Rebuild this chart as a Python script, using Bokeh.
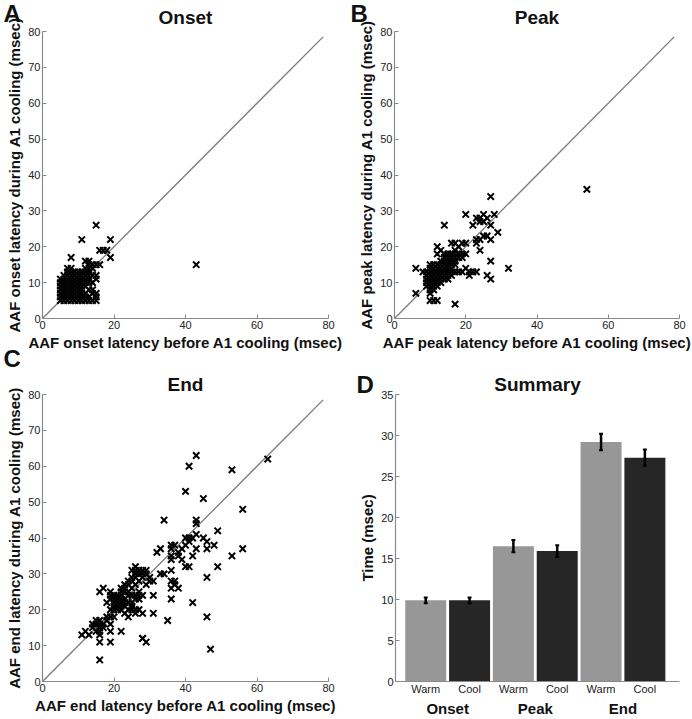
from bokeh.plotting import figure
from bokeh.layouts import column, row
from bokeh.models import Range1d, FixedTicker, LinearAxis, Title
from bokeh.embed import file_html
from bokeh.resources import INLINE

FONT = "Liberation Sans"

# ---------------- data ----------------
onset_before = [
    5, 5, 5, 5, 5, 5, 5,
    6, 6, 6, 6, 6, 6, 6, 6,
    7, 7, 7, 7, 7, 7, 7, 7, 7, 7,
    8, 8, 8, 8, 8, 8, 8, 8, 8, 8, 8,
    9, 9, 9, 9, 9, 9, 9, 9, 9,
    10, 10, 10, 10, 10, 10, 10, 10, 10,
    11, 11, 11, 11, 11, 11, 11, 11, 11, 11,
    12, 12, 12, 12, 12, 12, 12, 12, 12, 12,
    13, 13, 13, 13, 13, 13, 13, 13, 13, 13,
    14, 14, 14, 14, 14, 14, 14,
    15, 15, 15, 15, 15, 15, 15,
    16, 16, 17, 18, 19, 19, 43]
onset_during = [
    5, 6, 7, 8, 9, 10, 11,
    5, 6, 7, 8, 9, 10, 11, 12,
    5, 6, 7, 8, 9, 10, 11, 12, 13, 14,
    5, 6, 7, 8, 9, 10, 11, 12, 13, 14, 17,
    5, 6, 7, 8, 9, 10, 11, 12, 13,
    5, 6, 7, 8, 9, 10, 11, 12, 13,
    5, 6, 7, 8, 9, 10, 11, 12, 13, 22,
    5, 6, 7, 9, 10, 11, 12, 13, 14, 16,
    5, 6, 8, 10, 11, 12, 13, 14, 15, 16,
    5, 7, 8, 10, 12, 14, 15,
    5, 6, 7, 11, 12, 15, 26,
    15, 19, 19, 19, 17, 22, 15]

peak_before = [
    9, 9, 9, 9, 9,
    10, 10, 10, 10, 10, 10, 10, 10, 10,
    11, 11, 11, 11, 11, 11, 11, 11,
    12, 12, 12, 12, 12, 12, 12,
    13, 13, 13, 13, 13, 13, 13,
    14, 14, 14, 14, 14, 14, 14,
    15, 15, 15, 15, 15, 15, 15, 15,
    16, 16, 16, 16, 16, 16, 16,
    17, 17, 17, 17, 17, 17,
    18, 18, 18,
    6, 6, 8, 10, 11, 12, 17, 14, 12, 12, 13, 14, 17, 18, 19, 20,
    20, 23, 24, 25, 28, 27, 22, 24, 25, 23, 23, 24, 24, 25, 26, 27,
    29, 27, 26, 20, 21, 21, 22, 23, 27, 26, 27, 32, 54, 19, 19, 16,
    20, 19]
peak_during = [
    9, 10, 11, 12, 13,
    7, 8, 9, 10, 11, 12, 13, 14, 15,
    8, 9, 10, 11, 12, 13, 14, 15,
    9, 10, 11, 12, 13, 14, 15,
    10, 11, 12, 13, 14, 15, 16,
    11, 12, 13, 14, 15, 16, 17,
    11, 12, 13, 14, 15, 16, 17, 18,
    12, 13, 14, 15, 16, 17, 18,
    13, 15, 16, 17, 18, 19,
    13, 17, 18,
    7, 14, 13, 5, 5, 5, 4, 26, 20, 18, 19, 18, 21, 20, 21, 21,
    29, 28, 28, 29, 29, 34, 26, 27, 27, 22, 21, 22, 19, 23, 23, 22,
    24, 26, 28, 14, 13, 12, 13, 13, 16, 12, 11, 14, 36, 18, 13, 21,
    18, 17]

end_before = [
    14, 14, 15, 15, 15, 16, 16, 16, 16, 16, 17, 17, 18, 18, 18,
    19, 19, 19, 19, 19, 19,
    20, 20, 20, 20, 20, 20,
    21, 21, 21, 21, 21,
    22, 22, 22, 22, 22, 22, 22,
    23, 23, 23, 23, 23, 23, 23,
    24, 24, 24, 24, 24, 24, 24,
    25, 25, 25, 25, 25, 25, 25, 25,
    26, 26, 26, 26, 26, 26, 26, 26, 26,
    27, 27, 27, 27, 27, 27, 27,
    28, 28, 28, 28, 28, 28,
    29, 29, 29, 30,
    11, 12, 13, 16, 16, 19, 28, 29, 22, 19, 16, 17, 35, 31, 31, 36,
    42, 46, 47, 34, 32, 33, 40, 41, 43, 45, 53, 63, 56, 56, 53, 49,
    49, 46, 48, 46, 46, 45, 43, 43, 43, 43, 42, 41, 40, 41, 41, 40,
    40, 39, 38, 39, 36, 36, 36, 36, 36, 37, 38, 33, 34, 31, 30, 37,
    36, 36, 42, 38, 37]
end_during = [
    15, 16, 14, 16, 17, 13, 14, 15, 16, 17, 15, 16, 17, 18, 22,
    16, 18, 20, 23, 24, 25,
    18, 20, 21, 22, 23, 24,
    20, 21, 22, 23, 24,
    20, 21, 22, 23, 24, 25, 26,
    19, 21, 22, 23, 25, 26, 27,
    18, 20, 22, 24, 25, 27, 28,
    20, 21, 22, 24, 26, 28, 29, 31,
    19, 20, 23, 24, 27, 29, 30, 31, 32,
    20, 23, 24, 25, 28, 30, 31,
    19, 24, 29, 30, 31, 12,
    27, 30, 31, 28,
    13, 14, 13, 6, 11, 11, 12, 11, 14, 14, 25, 26, 17, 19, 24, 23,
    22, 18, 9, 45, 36, 37, 53, 60, 63, 51, 59, 62, 48, 37, 35, 42,
    32, 29, 38, 37, 39, 40, 45, 44, 41, 37, 35, 32, 32, 39, 40, 40,
    38, 37, 36, 34, 38, 34, 31, 28, 26, 27, 26, 30, 30, 28, 29, 38,
    37, 35, 40, 35, 28]

unity_line = [0, 78.5]
scatter_ticks = [0, 20, 40, 60, 80]
scatter_yticks = [0, 10, 20, 30, 40, 50, 60, 70, 80]

summary_groups = ["Onset", "Peak", "End"]
summary_conditions = ["Warm", "Cool"]
summary_means = [9.9, 9.9, 16.5, 15.9, 29.2, 27.3]
summary_sem = [0.35, 0.35, 0.75, 0.72, 1.0, 1.0]
summary_yticks = [0, 5, 10, 15, 20, 25, 30, 35]

WARM = "#979797"
COOL = "#262626"
AXIS = "#8a8a8a"
TXT = "#222222"
INK = "#111111"

W = 346
H_TOP = 370
H_BOT = 349


def style_axes(p):
    for ax in (p.xaxis[0], p.yaxis[0]):
        ax.axis_line_color = AXIS
        ax.axis_line_width = 1.2
        ax.major_tick_line_color = AXIS
        ax.major_tick_in = 4
        ax.major_tick_out = 0
        ax.minor_tick_line_color = None
        ax.major_label_text_font = FONT
        ax.major_label_text_font_size = "11px"
        ax.major_label_text_color = TXT
        ax.major_label_standoff = 2
        ax.axis_label_text_font = FONT
        ax.axis_label_text_font_size = "15px"
        ax.axis_label_text_font_style = "bold"
        ax.axis_label_text_color = INK
        ax.axis_label_standoff = 2
    p.xgrid.grid_line_color = None
    p.ygrid.grid_line_color = None
    p.outline_line_color = None


def add_titles(p, title, letter, title_standoff, letter_offset, letter_standoff):
    # panel title (nearest the frame)
    p.add_layout(Title(text=title, align="center", standoff=title_standoff,
                       text_font=FONT, text_font_size="19px", text_font_style="bold",
                       text_color=INK), "above")
    # panel letter (outermost, pulled down beside the title)
    if letter:
        p.add_layout(Title(text=letter, align="left", offset=letter_offset,
                           standoff=letter_standoff, text_font=FONT, text_font_size="24px",
                           text_font_style="bold", text_color=INK), "above")


def scatter_panel(xs, ys, xlab, ylab, height, left, right, top, bottom):
    p = figure(width=W, height=height, x_range=Range1d(0, 80), y_range=Range1d(0, 80),
               output_backend="svg", toolbar_location=None,
               min_border_left=left, min_border_right=right,
               min_border_top=top, min_border_bottom=bottom)
    style_axes(p)
    p.xaxis.ticker = FixedTicker(ticks=scatter_ticks)
    p.yaxis.ticker = FixedTicker(ticks=scatter_yticks)
    p.xaxis.axis_label = xlab
    p.yaxis.axis_label = ylab
    p.line(unity_line, unity_line, line_color="#7a7a7a", line_width=1.3)
    p.scatter(xs, ys, marker="x", size=9, line_color="black", line_width=2)
    return p


pA = scatter_panel(onset_before, onset_during,
                   "AAF onset latency before A1 cooling (msec)",
                   "AAF onset latency during A1 cooling (msec)",
                   H_TOP, 42, 18, 31, 52)
add_titles(pA, "Onset", "A", 7, -39, -51)
# letter of the lower-left panel sits in the gap under panel A
pA.add_layout(Title(text="C", align="left", offset=-39, standoff=-22,
                    text_font=FONT, text_font_size="24px", text_font_style="bold",
                    text_color=INK), "below")

pB = scatter_panel(peak_before, peak_during,
                   "AAF peak latency before A1 cooling (msec)",
                   "AAF peak latency during A1 cooling (msec)",
                   H_TOP, 48, 13, 31, 52)
add_titles(pB, "Peak", "B", 7, -44, -51)

pC = scatter_panel(end_before, end_during,
                   "AAF end latency before A1 cooling (msec)",
                   "AAF end latency during A1 cooling (msec)",
                   H_BOT, 42, 18, 24, 36)
add_titles(pC, "End", None, 0, 0, 0)

# ---------------- summary panel ----------------
bar_x = [i + 1 for i in range(len(summary_means))]
bar_colors = [WARM if i % 2 == 0 else COOL for i in range(len(summary_means))]
bar_labels = {i + 1: summary_conditions[i % 2] for i in range(len(summary_means))}
group_pos = [2 * g + 1.5 for g in range(len(summary_groups))]

pD = figure(width=W, height=H_BOT, x_range=Range1d(0.31, 6.79), y_range=Range1d(0, 35),
            output_backend="svg", toolbar_location=None,
            min_border_left=49, min_border_right=13, min_border_top=24, min_border_bottom=36)
style_axes(pD)
pD.vbar(x=bar_x, top=summary_means, width=0.935, fill_color=bar_colors, line_color=None)
lo = [m - e for m, e in zip(summary_means, summary_sem)]
hi = [m + e for m, e in zip(summary_means, summary_sem)]
pD.segment(x0=bar_x, y0=lo, x1=bar_x, y1=hi, line_color="black", line_width=2.5)
pD.segment(x0=[x - 0.045 for x in bar_x], y0=lo, x1=[x + 0.045 for x in bar_x], y1=lo,
           line_color="black", line_width=2)
pD.segment(x0=[x - 0.045 for x in bar_x], y0=hi, x1=[x + 0.045 for x in bar_x], y1=hi,
           line_color="black", line_width=2)
pD.yaxis.ticker = FixedTicker(ticks=summary_yticks)
pD.yaxis.axis_label = "Time (msec)"
pD.xaxis.ticker = FixedTicker(ticks=bar_x)
pD.xaxis.major_label_overrides = bar_labels
pD.xaxis.major_tick_in = 0
pD.xaxis.major_label_standoff = 1
gax = LinearAxis(ticker=FixedTicker(ticks=group_pos),
                 major_label_overrides={p: g for p, g in zip(group_pos, summary_groups)})
gax.axis_line_color = None
gax.major_tick_line_color = None
gax.minor_tick_line_color = None
gax.major_label_text_font = FONT
gax.major_label_text_font_size = "15px"
gax.major_label_text_font_style = "bold"
gax.major_label_text_color = INK
gax.major_label_standoff = -4
pD.add_layout(gax, "below")
add_titles(pD, "Summary", "D", 0, -39, -53)

layout = column(row(pA, pB), row(pC, pD))
open("out.html", "w").write(file_html(layout, INLINE))
